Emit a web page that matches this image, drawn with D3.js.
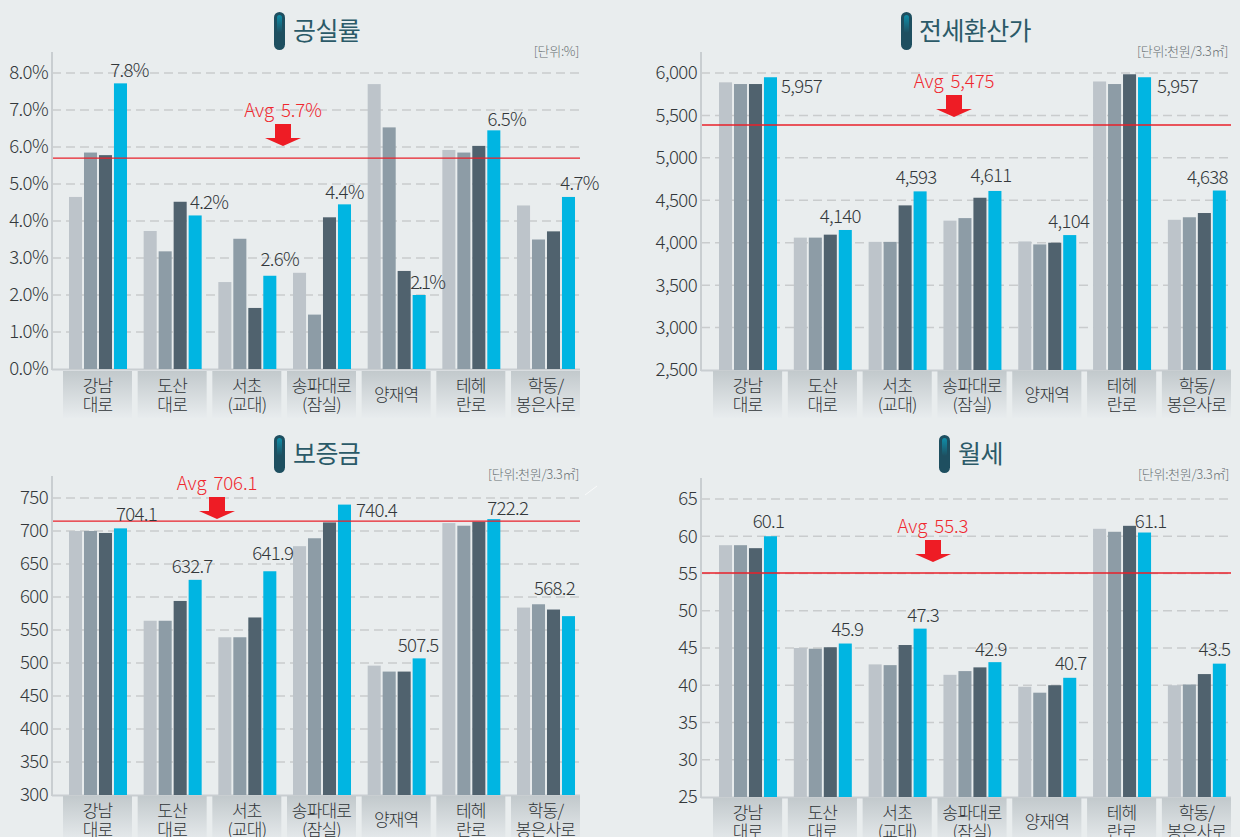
<!DOCTYPE html>
<html><head><meta charset="utf-8">
<script src="https://cdn.jsdelivr.net/npm/d3@7/dist/d3.min.js"></script>
<style>
html,body{margin:0;padding:0;background:#e9edee;overflow:hidden}
svg{display:block}
text{font-family:"Noto Sans CJK KR","Noto Sans",sans-serif;font-weight:300}
</style></head><body>
<svg id="c" width="1240" height="837"></svg>
<script>
const categories=[["강남","대로"],["도산","대로"],["서초","(교대)"],["송파대로","(잠실)"],["양재역"],["테헤","란로"],["학동/","봉은사로"]];
const seriesColors=["#bdc4ca","#8d9ca6","#50626e","#00b5e2"];

const vacancyValues=[[4.65,5.85,5.78,7.72],[3.73,3.18,4.52,4.15],[2.35,3.52,1.65,2.52],[2.6,1.47,4.1,4.45],[7.7,6.53,2.65,2.0],[5.92,5.85,6.03,6.45],[4.42,3.5,3.72,4.65]];
const vacancyLabels=["7.8%","4.2%","2.6%","4.4%","2.1%","6.5%","4.7%"];
const vacancyTicks=[0,1,2,3,4,5,6,7,8];

const conversionValues=[[5890,5870,5870,5950],[4060,4060,4095,4150],[4010,4010,4440,4605],[4260,4290,4530,4610],[4015,3980,4000,4090],[5900,5870,5985,5950],[4270,4300,4350,4615]];
const conversionLabels=["5,957","4,140","4,593","4,611","4,104","5,957","4,638"];
const conversionTicks=[2500,3000,3500,4000,4500,5000,5500,6000];

const depositValues=[[700,700,697,704],[564,564,594,626],[539,539,569,639],[677,689,713,740],[496,487,487,507],[712,708,714,718],[584,589,581,571]];
const depositLabels=["704.1","632.7","641.9","740.4","507.5","722.2","568.2"];
const depositTicks=[300,350,400,450,500,550,600,650,700,750];

const rentValues=[[58.8,58.8,58.4,60],[45,44.9,45.1,45.6],[42.8,42.7,45.4,47.6],[41.4,41.9,42.4,43.1],[39.8,39,40,41],[61,60.6,61.4,60.5],[40,40.1,41.5,42.9]];
const rentLabels=["60.1","45.9","47.3","42.9","40.7","61.1","43.5"];
const rentTicks=[25,30,35,40,45,50,55,60,65];

const panels=[
 {title:"공실률",unit:"[단위:%]",values:vacancyValues,labels:vacancyLabels,ticks:vacancyTicks,fmt:d=>d3.format(".1f")(d)+"%",
  avgText:"Avg 5.7%",avgLine:5.7,domain:[0,8],axisX:52,y0:369,y1:73,top:52,right:580,boxL:63,boxR:580,boxTop:371,titleY:31,pillX:274,titleX:293,avgX:283,avgTextY:110,arrowY:124,unitR:579,unitY:51,
  off:[[9,-13],[14,-13],[10,-16],[0,-12],[8,-13],[13,-11],[11,-13]]},
 {title:"전세환산가",unit:"[단위:천원/3.3㎡]",values:conversionValues,labels:conversionLabels,ticks:conversionTicks,fmt:d3.format(","),
  avgText:"Avg 5,475",avgLine:5387,domain:[2500,6000],axisX:701,y0:370,y1:73,top:52,right:1231,boxL:713,boxR:1231,boxTop:371,titleY:31,pillX:901,titleX:919,avgX:954,avgTextY:81,arrowY:95,unitR:1228,unitY:51,
  off:[[31,9],[-5,-13],[-4,-14],[-4,-15],[-1,-14],[33,9],[-12,-13]]},
 {title:"보증금",unit:"[단위:천원/3.3㎡]",values:depositValues,labels:depositLabels,ticks:depositTicks,fmt:d3.format("d"),
  avgText:"Avg 706.1",avgLine:715,domain:[300,750],axisX:52,y0:795,y1:498,top:476,right:580,boxL:63,boxR:580,boxTop:796,titleY:454,pillX:274,titleX:293,avgX:217,avgTextY:483,arrowY:497,unitR:579,unitY:474,
  off:[[16,-14],[-3,-13],[3,-18],[32,6],[-1,-13],[14,-11],[-14,-28]]},
 {title:"월세",unit:"[단위:천원/3.3㎡]",values:rentValues,labels:rentLabels,ticks:rentTicks,fmt:d3.format("d"),
  avgText:"Avg 55.3",avgLine:55.07,domain:[25,65],axisX:701,y0:797,y1:499,top:478,right:1231,boxL:713,boxR:1231,boxTop:798,titleY:454,pillX:939,titleX:958,avgX:933,avgTextY:526,arrowY:540,unitR:1229,unitY:474,
  off:[[-2,-15],[2,-14],[3,-13],[-4,-13],[1,-14],[6,-11],[-5,-14]]}
];

const svg=d3.select("#c");
svg.append("rect").attr("width",1240).attr("height",837).attr("fill","#e9edee");
const defs=svg.append("defs");
const g1=defs.append("linearGradient").attr("id","boxGrad").attr("x1",0).attr("y1",0).attr("x2",0).attr("y2",1);
g1.append("stop").attr("offset","0").attr("stop-color","#c2c9cc");
g1.append("stop").attr("offset","1").attr("stop-color","#e8ecee");
const g2=defs.append("linearGradient").attr("id","pillGrad").attr("x1",0).attr("y1",0).attr("x2",0).attr("y2",1);
g2.append("stop").attr("offset","0").attr("stop-color","#0f8ea8");
g2.append("stop").attr("offset","1").attr("stop-color","#1e4f60");

panels.forEach(p=>{
  const g=svg.append("g");
  const y=d3.scaleLinear().domain(p.domain).range([p.y0,p.y1]);
  const x=d3.scaleBand().domain(categories.map(c=>c.join(""))).range([p.boxL,p.boxR]).paddingInner(0.076);
  const x1=d3.scaleBand().domain(d3.range(4)).range([6,64]).paddingInner(0.13);

  // title
  g.append("rect").attr("x",p.pillX).attr("y",p.titleY-19).attr("width",11).attr("height",38).attr("rx",5.5).attr("fill","#1e4f60");
  g.append("rect").attr("x",p.pillX+3).attr("y",p.titleY-16).attr("width",5).attr("height",18).attr("rx",2.5).attr("fill","url(#pillGrad)");
  g.append("text").attr("x",p.titleX).attr("y",p.titleY).attr("dy","0.36em").attr("font-size",25).attr("letter-spacing",-0.6).attr("fill","#2b5a68").style("font-weight",400).text(p.title);
  g.append("text").attr("x",p.unitR).attr("y",p.unitY).attr("dy","0.35em").attr("text-anchor","end").attr("font-size",13).attr("letter-spacing",-0.3).attr("fill","#6a7174").text(p.unit);

  // axis + grid
  const axis=d3.axisLeft(y).tickValues(p.ticks).tickFormat(p.fmt).tickSize(0).tickPadding(4);
  const ax=g.append("g").attr("transform",`translate(${p.axisX},0)`).call(axis);
  ax.select(".domain").remove();
  ax.selectAll("text").attr("font-size",18.6).attr("letter-spacing",-0.6).attr("fill","#33383b");
  g.append("g").selectAll("line").data(p.ticks.filter(t=>t!==p.domain[0])).join("line")
    .attr("x1",p.axisX).attr("x2",p.right).attr("y1",d=>y(d)).attr("y2",d=>y(d))
    .attr("stroke","#c9cccd").attr("stroke-width",1.5).attr("stroke-dasharray","9 5");
  g.append("line").attr("x1",p.axisX).attr("x2",p.axisX).attr("y1",p.top).attr("y2",p.y0+1).attr("stroke","#c9ced1").attr("stroke-width",2);
  g.append("line").attr("x1",p.axisX).attr("x2",p.right).attr("y1",p.y0+0.5).attr("y2",p.y0+0.5).attr("stroke","#c9ced1").attr("stroke-width",2);

  // bars
  const grp=g.append("g").selectAll("g").data(p.values).join("g")
    .attr("transform",(d,i)=>`translate(${x(categories[i].join(""))},0)`);
  grp.selectAll("rect").data(d=>d).join("rect")
    .attr("x",(d,i)=>x1(i)).attr("width",x1.bandwidth())
    .attr("y",d=>y(d)).attr("height",d=>p.y0-y(d))
    .attr("fill",(d,i)=>seriesColors[i]);

  // category boxes
  const cg=g.append("g").selectAll("g").data(categories).join("g")
    .attr("transform",c=>`translate(${x(c.join(""))},${p.boxTop})`);
  cg.append("rect").attr("width",x.bandwidth()).attr("height",47).attr("fill","url(#boxGrad)");
  cg.each(function(c){
    const s=d3.select(this);
    c.forEach((t,i)=>{
      const cy=c.length===1?24:(i===0?15:34);
      s.append("text").attr("x",x.bandwidth()/2).attr("y",cy).attr("dy","0.35em").attr("text-anchor","middle")
       .attr("font-size",17).attr("letter-spacing",-0.8).attr("fill","#2f3437").text(t);
    });
  });

  // average
  g.append("line").attr("x1",p.axisX+1).attr("x2",p.right).attr("y1",y(p.avgLine)).attr("y2",y(p.avgLine)).attr("stroke","#e8202a").attr("stroke-width",1.4);
  g.append("text").attr("x",p.avgX).attr("y",p.avgTextY).attr("dy","0.35em").attr("text-anchor","middle").attr("font-size",18.6).attr("letter-spacing",-0.1).attr("word-spacing",3).attr("fill","#f0282f").text(p.avgText);
  const ay=p.arrowY, ax0=p.avgX;
  g.append("path").attr("d",d3.line()([[ax0-8,ay],[ax0+8,ay],[ax0+8,ay+14],[ax0+18,ay+14],[ax0,ay+22],[ax0-18,ay+14],[ax0-8,ay+14]])+"Z").attr("fill","#ee1c25");

  // value labels
  g.append("g").selectAll("text").data(p.labels).join("text")
    .attr("x",(d,i)=>x(categories[i].join(""))+x1(3)+x1.bandwidth()/2+p.off[i][0])
    .attr("y",(d,i)=>y(p.values[i][3])+p.off[i][1])
    .attr("dy","0.35em").attr("text-anchor","middle").attr("font-size",18.6).attr("letter-spacing",d=>d==="2.1%"?-1.8:-0.7).attr("fill","#33383b").text(d=>d);
});
svg.append("path").attr("d","M585 495L597 486").attr("stroke","#fafbfb").attr("stroke-width",1).attr("fill","none");
</script></body></html>
